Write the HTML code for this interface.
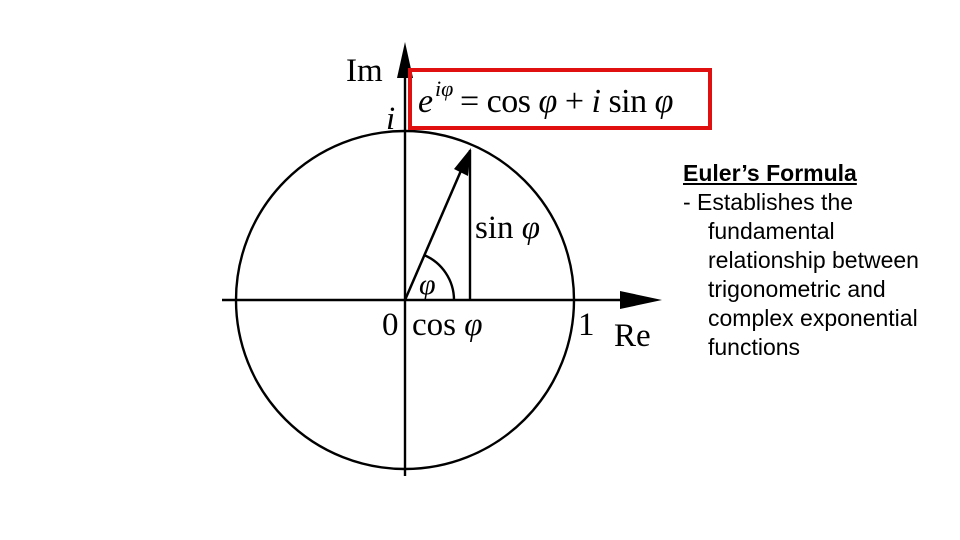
<!DOCTYPE html>
<html><head><meta charset="utf-8"><style>
body{margin:0;width:960px;height:540px;background:#fff;overflow:hidden;position:relative}
.t{position:absolute;font-family:"Liberation Sans",sans-serif;font-size:23px;color:#000;line-height:29px;white-space:nowrap}
</style></head><body>
<svg width="960" height="540" style="position:absolute;left:0;top:0" font-family="Liberation Serif, serif">
<circle cx="405" cy="300" r="169" fill="none" stroke="#000" stroke-width="2.4"/>
<line x1="222" y1="300" x2="625" y2="300" stroke="#000" stroke-width="2.4"/>
<polygon points="620,291 662,300 620,309" fill="#000"/>
<line x1="405" y1="476" x2="405" y2="72" stroke="#000" stroke-width="2.4"/>
<polygon points="397,78 405,42 413,78" fill="#000"/>
<line x1="405" y1="300" x2="463" y2="166" stroke="#000" stroke-width="2.5"/>
<polygon points="471,148 468,176 454,169" fill="#000"/>
<line x1="470" y1="150" x2="470" y2="300" stroke="#000" stroke-width="2.4"/>
<path d="M454,300 A49,49 0 0 0 424,255" fill="none" stroke="#000" stroke-width="2.4"/>
<rect x="410" y="70" width="300" height="58" fill="none" stroke="#e01010" stroke-width="4"/>
<text x="346" y="81" font-size="33">Im</text>
<text x="386" y="129" font-size="33" font-style="italic">i</text>
<text x="418" y="112" font-size="34" font-style="italic">e</text>
<text x="435" y="96" font-size="22" font-style="italic">iφ</text>
<text x="460" y="112" font-size="34" letter-spacing="-0.5">= cos <tspan font-style="italic">φ</tspan> + <tspan font-style="italic">i</tspan> sin <tspan font-style="italic">φ</tspan></text>
<text x="475" y="238" font-size="33">sin <tspan font-style="italic">φ</tspan></text>
<text x="419" y="294" font-size="30" font-style="italic">φ</text>
<text x="382" y="335" font-size="33">0</text>
<text x="412" y="335" font-size="33">cos <tspan font-style="italic">φ</tspan></text>
<text x="578" y="335" font-size="33">1</text>
<text x="614" y="346" font-size="33">Re</text>
</svg>
<div class="t" style="left:683px;top:159px;font-weight:bold;text-decoration:underline">Euler’s Formula</div>
<div class="t" style="left:683px;top:188px">- Establishes the</div>
<div class="t" style="left:708px;top:217px">fundamental</div>
<div class="t" style="left:708px;top:246px">relationship between</div>
<div class="t" style="left:708px;top:275px">trigonometric and</div>
<div class="t" style="left:708px;top:304px">complex exponential</div>
<div class="t" style="left:708px;top:333px">functions</div>
</body></html>
